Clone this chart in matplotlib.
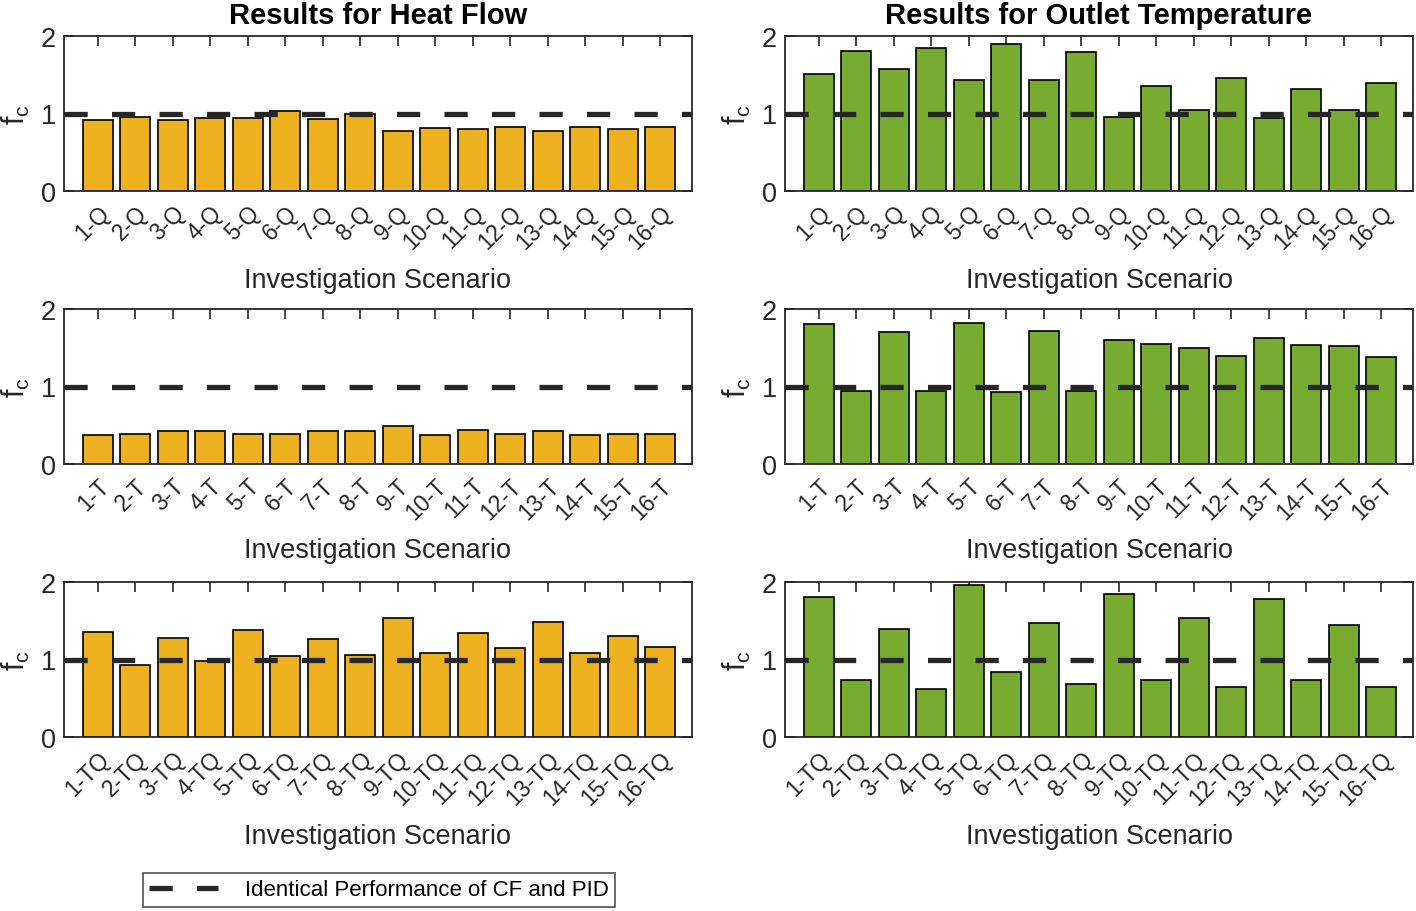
import numpy as np
import matplotlib.pyplot as plt
from matplotlib.lines import Line2D

plt.rcParams['font.family'] = ['Liberation Sans', 'DejaVu Sans']

# f_c values
hf_Q = [0.91, 0.95, 0.91, 0.94, 0.94, 1.03, 0.93, 1.00, 0.78, 0.81, 0.80, 0.83, 0.78, 0.82, 0.80, 0.83]
ot_Q = [1.51, 1.81, 1.58, 1.84, 1.43, 1.90, 1.43, 1.80, 0.96, 1.36, 1.05, 1.46, 0.94, 1.31, 1.04, 1.40]
hf_T = [0.38, 0.39, 0.42, 0.42, 0.39, 0.39, 0.42, 0.42, 0.49, 0.37, 0.44, 0.39, 0.42, 0.37, 0.39, 0.39]
ot_T = [1.81, 0.94, 1.70, 0.94, 1.82, 0.93, 1.71, 0.94, 1.60, 1.55, 1.50, 1.39, 1.62, 1.53, 1.52, 1.38]
hf_TQ = [1.35, 0.93, 1.28, 0.98, 1.38, 1.04, 1.26, 1.06, 1.54, 1.08, 1.34, 1.15, 1.48, 1.09, 1.30, 1.16]
ot_TQ = [1.81, 0.74, 1.40, 0.62, 1.96, 0.84, 1.47, 0.68, 1.85, 0.73, 1.53, 0.65, 1.78, 0.74, 1.44, 0.65]

suffixes = ['Q', 'T', 'TQ']
n = 16
ind = np.arange(1, n + 1)

yellow = '#EDB120'
green = '#77AC30'
dark = '#262626'
dash = (0, (4.4, 4.6))

fig = plt.figure(figsize=(14.16, 9.12), dpi=100)

lefts = [64 / 1416, 785 / 1416]
width = 628 / 1416
bottoms = [1 - 192 / 912, 1 - 465 / 912, 1 - 738 / 912]
height = 155 / 912

cols = [[hf_Q, hf_T, hf_TQ], [ot_Q, ot_T, ot_TQ]]
colors = [yellow, green]
titles = ['Results for Heat Flow', 'Results for Outlet Temperature']

for c in range(2):
    for r in range(3):
        ax = fig.add_axes([lefts[c], bottoms[r], width, height])
        ax.bar(ind, cols[c][r], 0.8, color=colors[c], edgecolor='black', linewidth=1.2, zorder=2)
        ax.axhline(1, color=dark, lw=3.8, linestyle=dash, zorder=3)
        ax.set_xlim(0.1, 16.85)
        ax.set_ylim(0, 2)
        ax.set_yticks([0, 1, 2])
        ax.set_xticks(ind)
        ax.set_xticklabels(['%d-%s' % (i, suffixes[r]) for i in ind], rotation=45,
                           ha='right', va='top', rotation_mode='anchor')
        ax.tick_params(direction='in', top=True, right=True, length=7, width=1.2,
                       colors=dark, labelsize=16.5, pad=7)
        ax.tick_params(axis='y', pad=6, labelsize=19.5)
        for s in ax.spines.values():
            s.set_color(dark)
            s.set_linewidth(1.3)
        ax.set_xlabel('Investigation Scenario', fontsize=19.5, color=dark, labelpad=10)
        ax.set_ylabel(r'f$_\mathregular{c}$', fontsize=22, color=dark, labelpad=6)
        if r == 0:
            ax.set_title(titles[c], fontsize=21, fontweight='bold', pad=9)

handle = Line2D([], [], color=dark, lw=3.8, linestyle=dash)
leg = fig.legend([handle], ['Identical Performance of CF and PID'], loc='center',
                 bbox_to_anchor=(379 / 1416, 1 - 891 / 912), fontsize=16, frameon=True,
                 fancybox=False, edgecolor=dark, handlelength=3.1, borderpad=0.3,
                 handletextpad=1.2)
leg.get_frame().set_linewidth(1.2)

fig.savefig('out.png', dpi=100)
